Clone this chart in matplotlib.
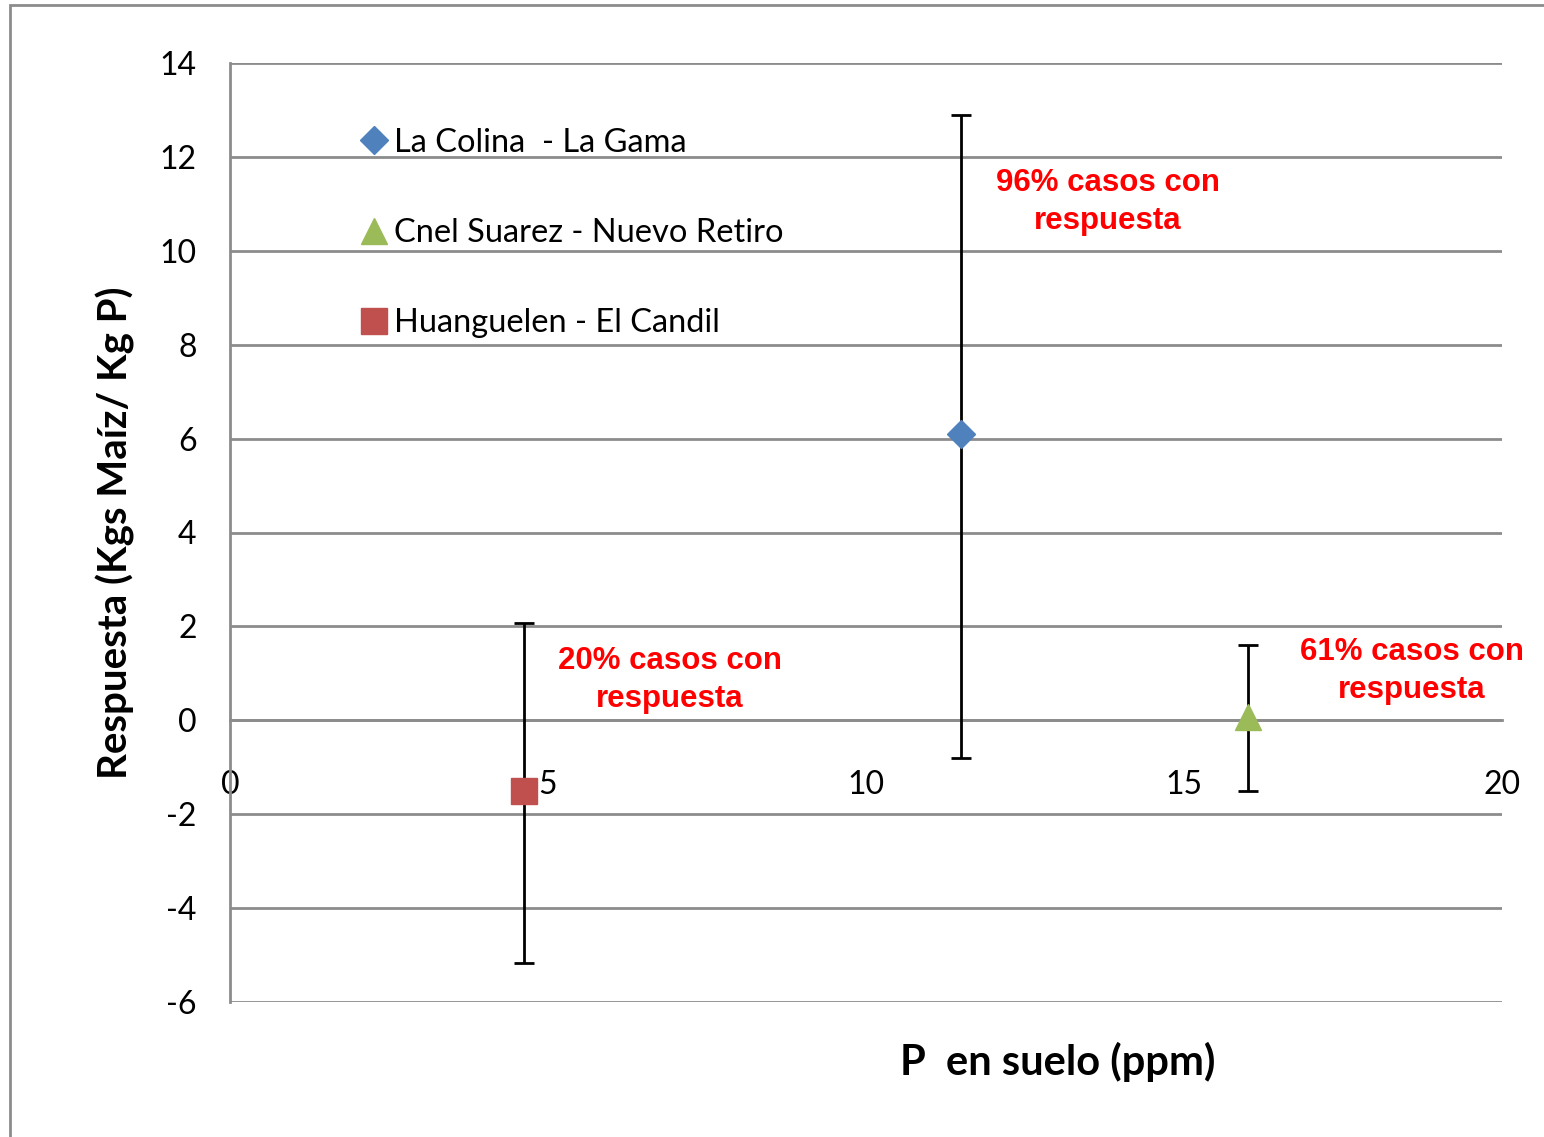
import matplotlib.pyplot as plt
from matplotlib.patches import Rectangle

# datos
sitios = ["La Colina  - La Gama", "Cnel Suarez - Nuevo Retiro", "Huanguelen - El Candil"]
p_suelo = [11.5, 16.0, 4.62]
respuesta = [6.1, 0.07, -1.5]
err_inf = [6.9, 1.57, 3.67]
err_sup = [6.8, 1.53, 3.57]
marcadores = ["D", "^", "s"]
colores = ["#4F81BD", "#9BBB59", "#C0504D"]
tamanos = [14, 19, 19]

textos = ["96% casos con\nrespuesta", "61% casos con\nrespuesta", "20% casos con\nrespuesta"]
texto_x = [13.8, 18.58, 6.92]
texto_y = [11.04, 1.05, 0.86]

xticks = [0, 5, 10, 15, 20]
yticks = [-6, -4, -2, 0, 2, 4, 6, 8, 10, 12, 14]

gris = "#8C8C8C"
fuente = ["Lato", "DejaVu Sans"]
plt.rcParams["font.family"] = fuente

fig = plt.figure(figsize=(15.44, 11.37), dpi=100)
fig.patches.append(Rectangle((10 / 1544, -0.1), 1.2, 1 - 5 / 1137 + 0.1,
                             transform=fig.transFigure, fill=False,
                             edgecolor=gris, linewidth=2))
ax = fig.add_axes([230 / 1544, 1 - 1002 / 1137, 1272 / 1544, 939 / 1137])

for i in range(len(sitios)):
    ax.errorbar(p_suelo[i], respuesta[i], yerr=[[err_inf[i]], [err_sup[i]]],
                fmt="none", ecolor="black", elinewidth=2, capsize=7,
                capthick=2, zorder=3)
    ax.plot(p_suelo[i], respuesta[i], linestyle="none", marker=marcadores[i],
            markersize=tamanos[i], color=colores[i], label=sitios[i], zorder=4)

for t, x, y in zip(textos, texto_x, texto_y):
    ax.text(x, y, t, color="#FF0000", fontsize=22.5, fontweight="bold",
            family="Liberation Sans", ha="center", va="center",
            linespacing=1.35)

ax.spines["top"].set_visible(False)
ax.spines["right"].set_visible(False)
ax.spines["bottom"].set_position(("data", 0))
ax.spines["bottom"].set_color(gris)
ax.spines["bottom"].set_linewidth(2)
ax.spines["left"].set_color(gris)
ax.spines["left"].set_linewidth(2)

ax.set_xlim(0, 20)
ax.set_ylim(-6, 14)
ax.set_xticks(xticks)
ax.set_yticks(yticks)
ax.set_xticklabels([str(v) for v in xticks])
ax.set_yticklabels([str(v) for v in yticks])
ax.tick_params(axis="x", length=0, pad=36, labelsize=23)
ax.tick_params(axis="y", length=0, pad=24, labelsize=23)

ax.grid(axis="y", color=gris, linewidth=2)
ax.set_axisbelow(True)

ax.set_ylabel("Respuesta (Kgs Maíz/ Kg P)", fontsize=29, fontweight="bold",
              labelpad=18)
fig.text(1058 / 1544, 1 - 1062 / 1137, "P  en suelo (ppm)",
         fontsize=30, fontweight="bold", ha="center", va="center")

ax.legend(loc="upper left", bbox_to_anchor=(0.093, 0.945), frameon=False,
          prop={"size": 23.5}, handlelength=0.8,
          handletextpad=0.2, labelspacing=1.85, borderaxespad=0)

fig.savefig("out.png", dpi=100)
